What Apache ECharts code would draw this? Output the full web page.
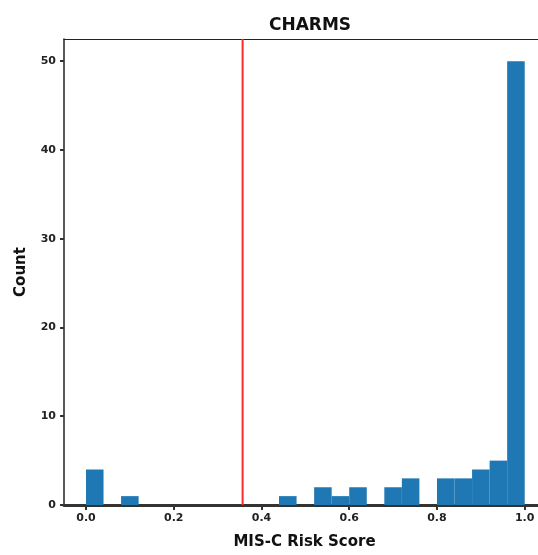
<!DOCTYPE html>
<html>
<head>
<meta charset="utf-8">
<script src="https://cdn.jsdelivr.net/npm/echarts@6/dist/echarts.min.js"></script>
<style>
html,body{margin:0;padding:0;background:#fff;}
#chart{width:538px;height:555px;}
</style>
</head>
<body>
<div id="chart"></div>
<script>
// Histogram bin edges (25 bins)
const binEdges = [0.00,0.04,0.08,0.12,0.16,0.20,0.24,0.28,0.32,0.36,0.40,0.44,0.48,0.52,0.56,0.60,0.64,0.68,0.72,0.76,0.80,0.84,0.88,0.92,0.96,1.00];
// Counts per bin
const counts = [4,0,1,0,0,0,0,0,0,0,0,1,0,2,1,2,0,2,3,0,3,3,4,5,50];
// Threshold (vertical red line)
const threshold = 0.357;
// Tick labels
const xTicks = [0.0,0.2,0.4,0.6,0.8,1.0];
const yTicks = [0,10,20,30,40,50];

const histData = [];
for (let i = 0; i < counts.length; i++) {
  if (counts[i] > 0) histData.push([binEdges[i], binEdges[i+1], counts[i]]);
}

const font = 'DejaVu Sans';
const xMin = -0.0501, xMax = 1.0303;
const chart = echarts.init(document.getElementById('chart'), null, {renderer:'canvas'});
chart.setOption({
  animation: false,
  backgroundColor: '#fff',
  title: {
    text: 'CHARMS',
    left: 305, top: 12, textAlign: 'center',
    textStyle: {fontFamily: font, fontSize: 17, fontWeight: 'bold', color: '#111'}
  },
  grid: {
    left: 64, top: 39, right: 0, height: 468,
    show: false
  },
  xAxis: [{
    type: 'value', min: xMin, max: xMax,
    name: 'MIS-C Risk Score', nameLocation: 'middle', nameGap: 30,
    nameTextStyle: {fontFamily: font, fontSize: 15, fontWeight: 'bold', color: '#111', padding: [0, 0, 0, 7]},
    axisLine: {show: true, onZero: false, lineStyle: {color: '#333', width: 3}},
    axisTick: {show: true, customValues: xTicks, length: 5, lineStyle: {color: '#333', width: 2}},
    axisLabel: {customValues: xTicks, margin: 8, fontFamily: font, fontSize: 11, fontWeight: 'bold', color: '#222',
      formatter: v => v.toFixed(1)},
    splitLine: {show: false}
  }, {
    type: 'value', min: xMin, max: xMax, position: 'top',
    axisLine: {show: true, onZero: false, lineStyle: {color: '#222', width: 1}},
    axisTick: {show: false}, axisLabel: {show: false}, splitLine: {show: false}
  }],
  yAxis: {
    type: 'value', min: 0, max: 52.5,
    name: 'Count', nameLocation: 'middle', nameGap: 35,
    nameTextStyle: {fontFamily: font, fontSize: 15, fontWeight: 'bold', color: '#111'},
    axisLine: {show: true, onZero: false, lineStyle: {color: '#222', width: 1.5}},
    axisTick: {show: true, customValues: yTicks, length: 4, lineStyle: {color: '#333', width: 2}},
    axisLabel: {customValues: yTicks, margin: 8, fontFamily: font, fontSize: 11, fontWeight: 'bold', color: '#222'},
    splitLine: {show: false}
  },
  series: [
    {
      type: 'custom',
      clip: true,
      data: histData,
      encode: {x: [0, 1], y: 2},
      renderItem: function (params, api) {
        const x0 = api.value(0), x1 = api.value(1), c = api.value(2);
        const p0 = api.coord([x0, c]);
        const p1 = api.coord([x1, 0]);
        return {
          type: 'rect',
          shape: {x: p0[0], y: p0[1], width: p1[0] - p0[0], height: p1[1] - p0[1]},
          style: {fill: '#1f77b4'}
        };
      },
      z: 2
    },
    {
      type: 'line',
      data: [[threshold, 0], [threshold, 52.5]],
      symbol: 'none',
      lineStyle: {color: '#ff2a2a', width: 2},
      z: 3
    }
  ]
});
</script>
</body>
</html>
